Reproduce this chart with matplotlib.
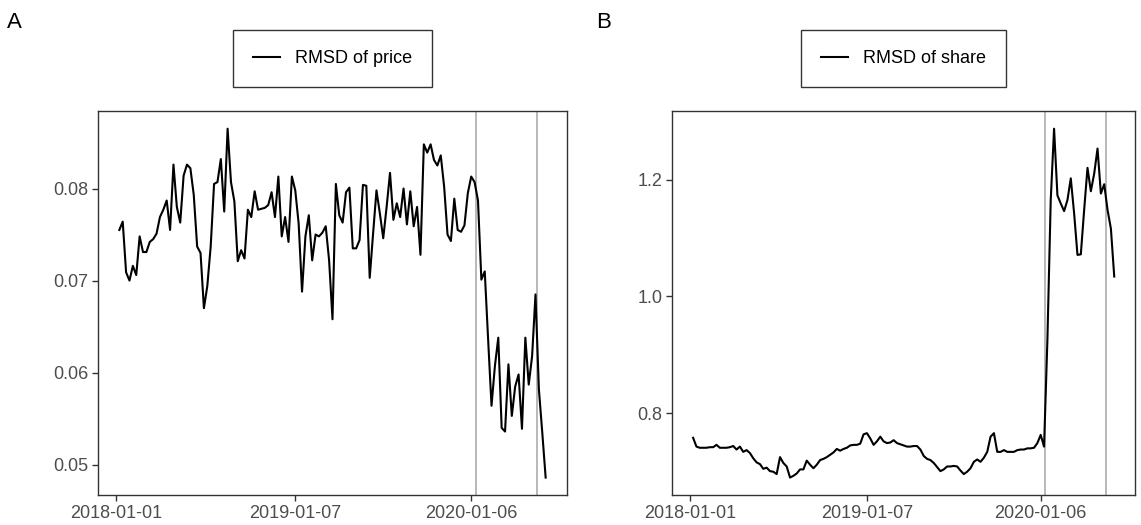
"""
Weekly RMSD of price and of share, two panels with two event markers.
"""

import pandas as pd
import matplotlib
matplotlib.use("Agg")
from matplotlib import pyplot as plt
import matplotlib.dates as mdates

plt.rcParams['font.family'] = ['Liberation Sans', 'DejaVu Sans']

start_date = "2018-01-08"
tick_dates = ["2018-01-01", "2019-01-07", "2020-01-06"]
event_dates = ["2020-01-16", "2020-05-21"]

price_rmsd = [
    0.0755, 0.0764, 0.0709, 0.0700, 0.0716, 0.0706, 0.0748, 0.0731, 0.0731, 0.0742,
    0.0745, 0.0751, 0.0769, 0.0777, 0.0787, 0.0755, 0.0826, 0.0780, 0.0763, 0.0814,
    0.0826, 0.0822, 0.0793, 0.0737, 0.0730, 0.0670, 0.0694, 0.0737, 0.0805, 0.0807,
    0.0832, 0.0775, 0.0865, 0.0807, 0.0786, 0.0721, 0.0733, 0.0724, 0.0777, 0.0769,
    0.0797, 0.0777, 0.0778, 0.0779, 0.0782, 0.0796, 0.0769, 0.0813, 0.0748, 0.0769,
    0.0742, 0.0813, 0.0798, 0.0762, 0.0688, 0.0748, 0.0771, 0.0722, 0.0750, 0.0748,
    0.0752, 0.0759, 0.0722, 0.0658, 0.0805, 0.0771, 0.0763, 0.0796, 0.0801, 0.0735,
    0.0735, 0.0744, 0.0804, 0.0803, 0.0703, 0.0751, 0.0798, 0.0773, 0.0746, 0.0780,
    0.0817, 0.0766, 0.0784, 0.0769, 0.0800, 0.0761, 0.0797, 0.0759, 0.0780, 0.0728,
    0.0848, 0.0839, 0.0848, 0.0831, 0.0825, 0.0836, 0.0802, 0.0750, 0.0743, 0.0789,
    0.0755, 0.0753, 0.0760, 0.0795, 0.0813, 0.0807, 0.0787, 0.0701, 0.0710, 0.0636,
    0.0564, 0.0607, 0.0638, 0.0540, 0.0536, 0.0609, 0.0553, 0.0585, 0.0598, 0.0539,
    0.0638, 0.0587, 0.0618, 0.0685, 0.0582, 0.0535, 0.0486,
]

share_rmsd = [
    0.758, 0.743, 0.741, 0.741, 0.741, 0.742, 0.742, 0.746, 0.741, 0.741,
    0.741, 0.742, 0.744, 0.738, 0.743, 0.734, 0.737, 0.732, 0.723, 0.716,
    0.713, 0.705, 0.707, 0.701, 0.700, 0.696, 0.725, 0.715, 0.709, 0.690,
    0.693, 0.697, 0.704, 0.704, 0.719, 0.712, 0.706, 0.712, 0.720, 0.722,
    0.725, 0.729, 0.733, 0.739, 0.736, 0.739, 0.741, 0.745, 0.746, 0.746,
    0.748, 0.764, 0.766, 0.757, 0.746, 0.752, 0.760, 0.752, 0.749, 0.750,
    0.754, 0.749, 0.747, 0.745, 0.743, 0.743, 0.744, 0.744, 0.738, 0.727,
    0.722, 0.720, 0.715, 0.708, 0.701, 0.704, 0.709, 0.709, 0.710, 0.709,
    0.702, 0.696, 0.700, 0.706, 0.717, 0.721, 0.717, 0.724, 0.734, 0.760,
    0.766, 0.734, 0.734, 0.737, 0.734, 0.734, 0.734, 0.737, 0.738, 0.738,
    0.740, 0.740, 0.741, 0.749, 0.763, 0.743, 0.925, 1.165, 1.287, 1.173,
    1.159, 1.146, 1.165, 1.202, 1.142, 1.071, 1.072, 1.148, 1.220, 1.180,
    1.210, 1.253, 1.176, 1.192, 1.148, 1.116, 1.034,
]

price_ticks = [0.05, 0.06, 0.07, 0.08]
share_ticks = [0.8, 1.0, 1.2]

dates = pd.date_range(start_date, periods=len(price_rmsd), freq="7D")

fig = plt.figure(figsize=(11.41, 5.25), dpi=100)
ax_a = fig.add_axes([0.0859, 0.0571, 0.411, 0.731])
ax_b = fig.add_axes([0.589, 0.0571, 0.406, 0.731])


def draw_panel(ax, values, label, yticks, yfmt):
    """
    Draw one panel in a ggplot theme_bw-like look without grid.
    """
    for d in event_dates:
        ax.axvline(pd.Timestamp(d), color="#b3b3b3", linewidth=1.3, zorder=1)
    ax.plot(dates, values, color="black", linewidth=1.5, label=label, zorder=2)

    ax.set_xticks([pd.Timestamp(t) for t in tick_dates])
    ax.xaxis.set_major_formatter(mdates.DateFormatter("%Y-%m-%d"))
    ax.set_yticks(yticks)
    ax.set_yticklabels([yfmt.format(v) for v in yticks])
    ax.margins(x=0.05, y=0.05)

    for spine in ax.spines.values():
        spine.set_color("#333333")
        spine.set_linewidth(1.0)
    ax.tick_params(axis="both", direction="out", length=4, width=1.0,
                   color="#333333", labelcolor="#4d4d4d", labelsize=13, pad=3)

    leg = ax.legend(loc="center", bbox_to_anchor=(0.5, 1.137), fontsize=13,
                    frameon=True, fancybox=False, borderpad=1.1,
                    handlelength=1.5, handletextpad=0.85)
    leg.get_frame().set_edgecolor("black")
    leg.get_frame().set_linewidth(1.0)


draw_panel(ax_a, price_rmsd, "RMSD of price", price_ticks, "{:.2f}")
draw_panel(ax_b, share_rmsd, "RMSD of share", share_ticks, "{:.1f}")

fig.text(7 / 1141, 1 - 28 / 525, "A", fontsize=16, ha="left", va="baseline")
fig.text(596 / 1141, 1 - 28 / 525, "B", fontsize=16, ha="left", va="baseline")

fig.savefig("out.png", dpi=100)
